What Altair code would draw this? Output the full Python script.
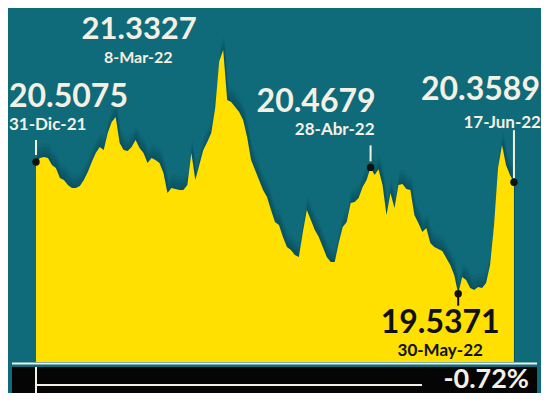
import altair as alt
import numpy as np
import pandas as pd

# ---- data -------------------------------------------------------------
start = "2021-12-31"
end = "2022-06-17"

# daily close (one value per business day)
values = [
    20.5075, 20.537, 20.544, 20.537, 20.485, 20.463, 20.390, 20.375, 20.338, 20.316,
    20.316, 20.331, 20.375, 20.434, 20.508, 20.574, 20.618, 20.596, 20.721, 20.802,
    20.839, 20.648, 20.596, 20.588, 20.618, 20.670, 20.611, 20.574, 20.500, 20.537,
    20.522, 20.500, 20.426, 20.279, 20.316, 20.309, 20.301, 20.301, 20.338, 20.574,
    20.375, 20.485, 20.596, 20.655, 20.721, 20.910, 21.250, 21.3327, 20.964, 20.950,
    20.913, 20.876, 20.817, 20.692, 20.522, 20.449, 20.375, 20.301, 20.250, 20.154,
    20.065, 20.043, 19.955, 19.881, 19.859, 19.822, 19.808, 19.992, 20.154, 20.080,
    20.006, 19.955, 19.881, 19.808, 19.771, 19.771, 19.911, 20.029, 20.065, 20.205,
    20.213, 20.242, 20.323, 20.375, 20.4679, 20.412, 20.455, 20.338, 20.117, 20.279,
    20.169, 20.338, 20.345, 20.308, 20.301, 20.117, 20.058, 19.992, 20.021, 19.911,
    19.881, 19.866, 19.852, 19.800, 19.748, 19.675, 19.5371, 19.660, 19.638, 19.579,
    19.564, 19.587, 19.579, 19.616, 19.748, 20.043, 20.463, 20.633, 20.485, 20.412,
    20.3589,
]

ann_dates = ["2021-12-31", "2022-03-08", "2022-04-28", "2022-05-30", "2022-06-17"]
ann_labels = ["31-Dic-21", "8-Mar-22", "28-Abr-22", "30-May-22", "17-Jun-22"]
ann_values = [20.5075, 21.3327, 20.4679, 19.5371, 20.3589]

# ---- tables -----------------------------------------------------------
dates = pd.bdate_range(start, end)
df = pd.DataFrame({"date": dates, "i": np.arange(len(dates)), "v": values})
ann = pd.DataFrame({
    "label": ann_labels,
    "v": ann_values,
    "i": [int(np.busday_count(start, d)) for d in ann_dates],
})
ann["vtxt"] = ann["v"].map(lambda v: f"{v:.4f}")
change = (values[-1] / values[0] - 1) * 100
chg = pd.DataFrame({"txt": [f"{change:.2f}%"]})
one = pd.DataFrame({"a": [0]})

# ---- style ------------------------------------------------------------
W, H = 533, 385
TEAL = "#0f6b79"
SHADOW = "#053f4a"
YELLOW = "#ffe000"
CREAM = "#f5f0e4"
DARK = "#111111"
FONT = "Lato"
BASE = 19.0337

xs = alt.Scale(domain=[-7.03, 126.79], nice=False, zero=False)
ys = alt.Scale(domain=[18.8052, 21.6424], nice=False, zero=False)
X = alt.X("i:Q", scale=xs, axis=None)
Y = alt.Y("v:Q", scale=ys, axis=None)

layers = []
# soft shadow above the curve
for off in [-14, -10, -7, -4, -2]:
    layers.append(alt.Chart(df).mark_area(color=SHADOW, opacity=0.13, interpolate="linear",
                                          yOffset=off, xOffset=1).encode(X, Y, y2=alt.datum(BASE)))

layers.append(alt.Chart(df).mark_area(color=YELLOW, interpolate="linear").encode(
    X, Y, y2=alt.datum(BASE)))

# per-annotation styling: (dx, dy, align) for number and date, tick offsets, colour
specs = {
    "31-Dic-21": dict(num=(-27, -55, "left"), date=(-27, -32, "left"), tick=(-22, -7), color=CREAM, size=32, dsize=17),
    "8-Mar-22": dict(num=(-84, -11, "center"), date=(-85, 13, "center"), tick=None, color=CREAM, size=31, dsize=16),
    "28-Abr-22": dict(num=(5, -55, "right"), date=(4, -32, "right"), tick=(-22, -6), color=CREAM, size=32, dsize=17),
    "30-May-22": dict(num=(-18, 39, "center"), date=(-18, 62, "center"), tick=(0, 12), color=DARK, size=32, dsize=17),
    "17-Jun-22": dict(num=(26, -82, "right"), date=(27, -54, "right"), tick=(-52, -4), color=CREAM, size=32, dsize=17),
}

for lab, s in specs.items():
    sub = alt.Chart(ann).transform_filter(alt.datum.label == lab)
    dx, dy, al = s["num"]
    layers.append(sub.mark_text(align=al, baseline="alphabetic", dx=dx, dy=dy, font=FONT,
                                fontSize=s["size"], fontWeight="bold", color=s["color"])
                  .encode(X, Y, text="vtxt:N"))
    dx, dy, al = s["date"]
    layers.append(sub.mark_text(align=al, baseline="alphabetic", dx=dx, dy=dy, font=FONT,
                                fontSize=s["dsize"], fontWeight="bold", color=s["color"])
                  .encode(X, Y, text="label:N"))
    if s["tick"] is not None:
        a, b = s["tick"]
        tick_color = CREAM if s["color"] == CREAM else DARK
        layers.append(sub.mark_rule(color=tick_color, strokeWidth=2, yOffset=a, y2Offset=b)
                      .encode(X, Y, y2="v:Q"))
        layers.append(sub.mark_circle(size=55, color=DARK, opacity=1).encode(X, Y))

# bottom bar
layers.append(alt.Chart(one).mark_rule(color=CREAM, strokeWidth=2).encode(
    x=alt.value(4), x2=alt.value(529), y=alt.value(355.5)))
layers.append(alt.Chart(one).mark_rect(color="#050505").encode(
    x=alt.value(4), x2=alt.value(529), y=alt.value(359), y2=alt.value(H)))
layers.append(alt.Chart(one).mark_rule(color=CREAM, strokeWidth=2).encode(
    x=alt.value(28), y=alt.value(359), y2=alt.value(H)))
layers.append(alt.Chart(one).mark_rule(color=CREAM, strokeWidth=2).encode(
    x=alt.value(28), x2=alt.value(414), y=alt.value(377)))
layers.append(alt.Chart(chg).mark_text(align="right", baseline="alphabetic", font=FONT,
                                       fontSize=27, fontWeight="bold", color=CREAM).encode(
    x=alt.value(521), y=alt.value(380), text="txt:N"))

chart = alt.layer(*layers).properties(
    width=W, height=H, background=TEAL, padding=0, autosize="none"
).configure_view(stroke=None)

chart.save("out.html", embed_options={"renderer": "svg", "actions": False})
